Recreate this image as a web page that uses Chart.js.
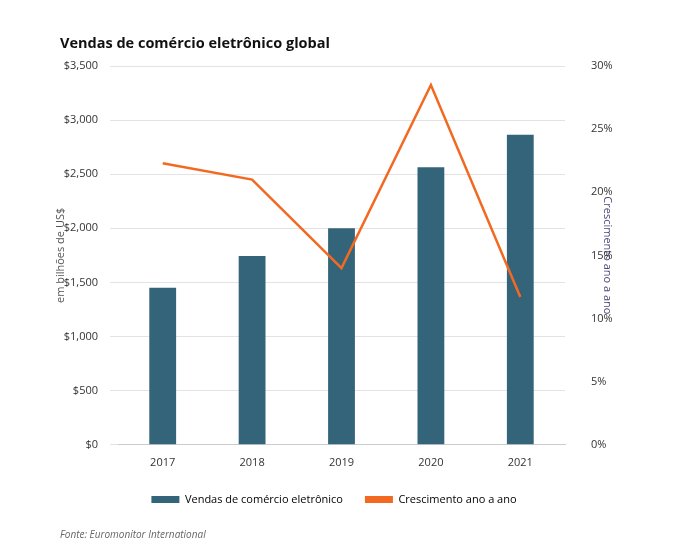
<!DOCTYPE html>
<html><head><meta charset="utf-8">
<script src="https://cdn.jsdelivr.net/npm/chart.js@4"></script>
<style>
body{margin:0;background:#fff;font-family:"Open Sans",sans-serif;}
#t{position:absolute;left:60px;top:33px;font-weight:bold;font-size:14.5px;color:#111;}
#s{position:absolute;left:60px;top:527px;font-style:italic;font-size:10px;color:#666;}
#w{position:absolute;left:0;top:0;width:676px;height:545px;}
</style></head><body>
<div id="w"><canvas id="c"></canvas></div>
<div id="t">Vendas de comércio eletrônico global</div>
<div id="s">Fonte: Euromonitor International</div>
<script>
const categories=["2017","2018","2019","2020","2021"];
const sales=[1450,1745,2000,2565,2865];
const growth=[22.3,21.0,14.0,28.5,11.7];
Chart.defaults.font.family='"Open Sans",sans-serif';
Chart.defaults.color='#444';
new Chart(document.getElementById('c'),{
 data:{labels:categories,datasets:[
  {type:'line',label:'Crescimento ano a ano',data:growth,yAxisID:'y1',borderColor:'#f26a21',backgroundColor:'#f26a21',borderWidth:2.5,pointRadius:0,tension:0,order:0},
  {type:'bar',label:'Vendas de comércio eletrônico',data:sales,yAxisID:'y',backgroundColor:'#34647a',barPercentage:0.3,categoryPercentage:1,order:1}
 ]},
 options:{responsive:true,maintainAspectRatio:false,animation:false,
  layout:{padding:{left:50,right:58,top:66,bottom:30}},
  plugins:{legend:{position:'bottom',reverse:true,labels:{boxWidth:28,boxHeight:7,font:{size:11},padding:22,
     generateLabels(ch){return ch.data.datasets.map((d,i)=>({text:d.label,fillStyle:d.type==='bar'?d.backgroundColor:d.borderColor,strokeStyle:'transparent',lineWidth:0,datasetIndex:i,boxHeight:d.type==='bar'?7:2}));}}},
   tooltip:{enabled:false}},
  scales:{
   x:{grid:{display:false},border:{color:'#ccc'},ticks:{font:{size:11},color:'#333'}},
   y:{position:'left',min:0,max:3500,afterFit(s){s.width=68;},ticks:{stepSize:500,font:{size:11},color:'#333',padding:12,callback:v=>'$'+v.toLocaleString('en-US')},
      grid:{color:'#e3e3e3'},border:{display:false},title:{display:true,text:'em bilhões de US$',font:{size:11},color:'#555'}},
   y1:{position:'right',min:0,max:30,afterFit(s){s.width=53;},ticks:{stepSize:5,font:{size:11},color:'#333',padding:18,callback:v=>v+'%'},
      grid:{display:false},border:{display:false},title:{display:true,text:'Crescimento ano a ano',font:{size:11},color:'#4a4a7a'}}
  }}
});
</script></body></html>
